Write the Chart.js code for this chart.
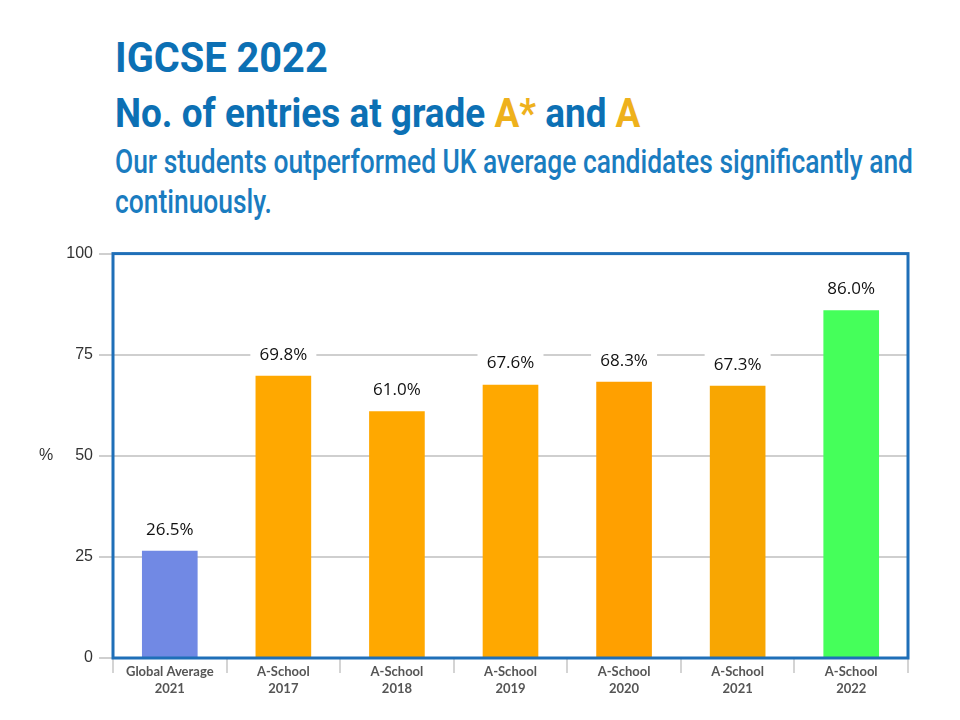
<!DOCTYPE html>
<html>
<head>
<meta charset="utf-8">
<script src="https://cdn.jsdelivr.net/npm/chart.js@4.4.1/dist/chart.umd.min.js"></script>
<style>
    body { margin: 0; width: 960px; height: 720px; background: #fff; position: relative; overflow: hidden; }
    .t { position: absolute; left: 115px; white-space: nowrap; line-height: 1; font-family: Roboto, sans-serif; transform-origin: 0 0; }
    #t1 { top: 37px; font-size: 42px; font-weight: 700; color: #0C70B4; }
    #t2 { top: 94px; font-size: 40px; font-weight: 700; color: #0C70B4; }
    #t2 span { color: #EEB11C; }
    #t3 { top: 144px; font-size: 34px; font-weight: 500; color: #1A7CC0; }
    #t4 { top: 184px; font-size: 34px; font-weight: 500; color: #1A7CC0; }
    #wrap { position: absolute; left: 0; top: 238px; width: 960px; height: 470px; }
</style>
</head>
<body>

<div class="t" id="t1">IGCSE 2022</div>
<div class="t" id="t2">No. of entries at grade <span>A*</span> and <span>A</span></div>
<div class="t" id="t3">Our students outperformed UK average candidates significantly and</div>
<div class="t" id="t4">continuously.</div>

<div id="wrap"><canvas id="gradeChart"></canvas></div>

<script>
/* ==========================================================
   DATA
========================================================== */

const categories = [
    ["Global Average", "2021"],
    ["A-School", "2017"],
    ["A-School", "2018"],
    ["A-School", "2019"],
    ["A-School", "2020"],
    ["A-School", "2021"],
    ["A-School", "2022"]
];

const percentages = [26.5, 69.8, 61.0, 67.6, 68.3, 67.3, 86.0];

const barColors = [
    "#7189E4",
    "#FFA800",
    "#FFA800",
    "#FFA800",
    "#FFA000",
    "#F8A602",
    "#45FF5A"
];

const yTicks = [0, 25, 50, 75, 100];

const yTitle = "%";

/* ==========================================================
   HEADING (squeeze the lines to the reference widths)
========================================================== */

function fitWidth(id, target) {
    const el = document.getElementById(id);
    const k = target / el.scrollWidth;
    el.style.transform = "scaleX(" + k + ")";
    return k;
}

fitWidth("t1", 213);
fitWidth("t2", 525);
const k3 = fitWidth("t3", 798);
document.getElementById("t4").style.transform = "scaleX(" + k3 + ")";

/* ==========================================================
   PLUGINS
========================================================== */

// value labels above bars, on a white box that breaks the gridlines
const valueLabels = {
    id: "valueLabels",
    afterDatasetsDraw(chart) {
        const ctx = chart.ctx;
        const meta = chart.getDatasetMeta(0);
        ctx.save();
        ctx.font = "17px 'Open Sans', sans-serif";
        ctx.textAlign = "center";
        ctx.textBaseline = "middle";
        meta.data.forEach((bar, i) => {
            const text = percentages[i].toFixed(1) + "%";
            const y = bar.y - 21;
            ctx.fillStyle = "#fff";
            ctx.fillRect(bar.x - 33, y - 12, 66, 24);
            ctx.fillStyle = "#111";
            ctx.fillText(text, bar.x, y);
        });
        ctx.restore();
    }
};

// blue frame round the plot area, plus the upright "%" axis title
const plotFrame = {
    id: "plotFrame",
    afterDraw(chart) {
        const { left, top, right, bottom } = chart.chartArea;
        const ctx = chart.ctx;
        ctx.save();
        ctx.strokeStyle = "#1F6FB8";
        ctx.lineWidth = 3;
        ctx.strokeRect(left, top, right - left, bottom - top);

        ctx.font = "16px 'Liberation Sans', Arial, sans-serif";
        ctx.fillStyle = "#333";
        ctx.textAlign = "center";
        ctx.textBaseline = "middle";
        ctx.fillText(yTitle, 46, (top + bottom) / 2);
        ctx.restore();
    }
};

/* ==========================================================
   CHART
========================================================== */

new Chart(document.getElementById("gradeChart").getContext("2d"), {

    type: "bar",

    data: {
        labels: categories,
        datasets: [{
            data: percentages,
            backgroundColor: barColors,
            barPercentage: 0.49,
            categoryPercentage: 1
        }]
    },

    options: {
        responsive: true,
        maintainAspectRatio: false,
        animation: false,
        layout: {
            padding: { top: 11, right: 52, left: 0, bottom: 0 }
        },
        plugins: {
            legend: { display: false },
            tooltip: { enabled: false }
        },
        scales: {
            x: {
                grid: {
                    drawOnChartArea: false,
                    drawTicks: true,
                    tickLength: 15,
                    color: "#d4d4d4",
                    lineWidth: 2
                },
                border: { display: false },
                ticks: {
                    color: "#555",
                    padding: -9,
                    font: { family: "Lato, sans-serif", size: 13, weight: "bold", lineHeight: 1.27 }
                },
                afterFit(scale) { scale.height = 50; }
            },
            y: {
                min: 0,
                max: 100,
                afterBuildTicks(scale) {
                    scale.ticks = yTicks.map(v => ({ value: v }));
                },
                grid: {
                    color: "#cfcfcf",
                    lineWidth: 2,
                    tickLength: 14
                },
                border: { display: false },
                ticks: {
                    color: "#333",
                    padding: 6,
                    font: { family: "'Liberation Sans', Arial, sans-serif", size: 16 }
                },
                afterFit(scale) { scale.width = 113; }
            }
        }
    },

    plugins: [valueLabels, plotFrame]

});
</script>
</body>
</html>
